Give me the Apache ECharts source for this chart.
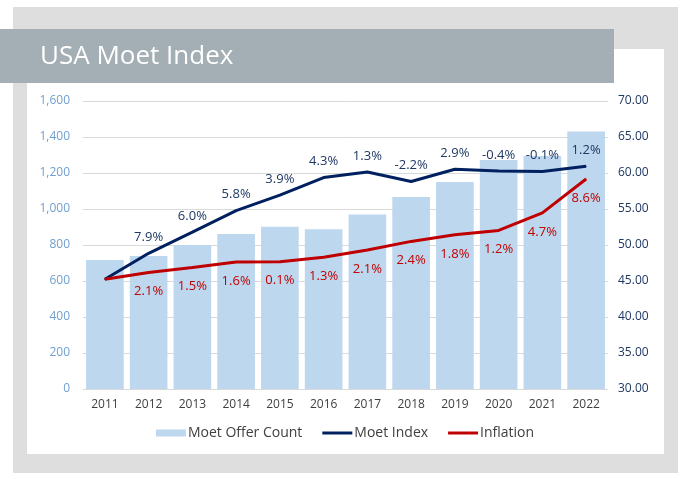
<!DOCTYPE html>
<html><head><meta charset="utf-8">
<script src="https://cdn.jsdelivr.net/npm/echarts@6/dist/echarts.min.js"></script>
<style>html,body{margin:0;padding:0;background:#fff;}#c{width:690px;height:479px;}</style>
</head><body><div id="c"></div>
<script>
const years = ['2011','2012','2013','2014','2015','2016','2017','2018','2019','2020','2021','2022'];
const offerCount = [717, 739, 800, 861, 902, 887, 970, 1067, 1150, 1272, 1294, 1430];
const moetIndex = [45.24, 48.85, 51.78, 54.78, 56.92, 59.37, 60.14, 58.82, 60.52, 60.28, 60.22, 60.94];
const inflation = [45.24, 46.19, 46.88, 47.63, 47.68, 48.30, 49.31, 50.50, 51.41, 52.03, 54.47, 59.16];
const moetLabels = ['', '7.9%', '6.0%', '5.8%', '3.9%', '4.3%', '1.3%', '-2.2%', '2.9%', '-0.4%', '-0.1%', '1.2%'];
const inflLabels = ['', '2.1%', '1.5%', '1.6%', '0.1%', '1.3%', '2.1%', '2.4%', '1.8%', '1.2%', '4.7%', '8.6%'];
const leftTicks = [0, 1600, 200];
const rightTicks = [30, 70, 5];

const FONT = '"Open Sans", sans-serif';
const chart = echarts.init(document.getElementById('c'));
chart.setOption({
  animation: false,
  backgroundColor: '#fff',
  graphic: [
    {type: 'rect', z: -10, shape: {x: 13, y: 7, width: 665, height: 466}, style: {fill: '#dedede'}},
    {type: 'rect', z: -9, shape: {x: 27, y: 49, width: 637, height: 405}, style: {fill: '#ffffff'}},
    {type: 'rect', z: -8, shape: {x: 0, y: 29, width: 614, height: 54}, style: {fill: '#a3afb4'}}
  ],
  title: {
    text: 'USA Moet Index', left: 35, top: 39,
    textStyle: {color: '#ffffff', fontFamily: FONT, fontSize: 26, fontWeight: 500}
  },
  legend: {
    bottom: 34, left: 'center', itemGap: 20, itemWidth: 30, itemHeight: 8,
    textStyle: {color: '#404040', fontFamily: FONT, fontSize: 14, padding: [0, 0, 0, -3]},
    data: [
      {name: 'Moet Offer Count', icon: 'path://M0,0L30,0L30,7L0,7Z'},
      {name: 'Moet Index', icon: 'path://M0,0L30,0L30,3L0,3Z'},
      {name: 'Inflation', icon: 'path://M0,0L30,0L30,3L0,3Z'}
    ]
  },
  grid: {left: 83, right: 82, top: 101, bottom: 90},
  xAxis: {
    type: 'category', data: years,
    axisLine: {show: false}, axisTick: {show: false},
    axisLabel: {color: '#404040', fontFamily: FONT, fontSize: 12, margin: 10}
  },
  yAxis: [
    {
      type: 'value', min: leftTicks[0], max: leftTicks[1], interval: leftTicks[2],
      axisLine: {show: false}, axisTick: {show: false},
      splitLine: {lineStyle: {color: '#d9d9d9', width: 1}},
      axisLabel: {color: '#6f9fcf', fontFamily: FONT, fontSize: 12, margin: 13,
        formatter: v => v.toLocaleString('en-US')}
    },
    {
      type: 'value', min: rightTicks[0], max: rightTicks[1], interval: rightTicks[2], position: 'right',
      axisLine: {show: false}, axisTick: {show: false}, splitLine: {show: false},
      axisLabel: {color: '#1f3864', fontFamily: FONT, fontSize: 12, margin: 10,
        formatter: v => v.toFixed(2)}
    }
  ],
  series: [
    {
      name: 'Moet Offer Count', type: 'bar', data: offerCount, yAxisIndex: 0,
      barCategoryGap: '14%', itemStyle: {color: '#bdd7ee'}, z: 1
    },
    {
      name: 'Moet Index', type: 'line', data: moetIndex, yAxisIndex: 1,
      symbol: 'circle', symbolSize: 1, itemStyle: {color: '#002060'},
      lineStyle: {color: '#002060', width: 3}, z: 3,
      label: {show: true, position: 'top', distance: 9, color: '#1f3864', fontFamily: FONT, fontSize: 13,
        formatter: p => moetLabels[p.dataIndex]}
    },
    {
      name: 'Inflation', type: 'line', data: inflation, yAxisIndex: 1,
      symbol: 'circle', symbolSize: 1, itemStyle: {color: '#c00000'},
      lineStyle: {color: '#c00000', width: 3}, z: 3,
      label: {show: true, position: 'bottom', distance: 12, color: '#c00000', fontFamily: FONT, fontSize: 13,
        formatter: p => inflLabels[p.dataIndex]}
    }
  ]
});
</script></body></html>
